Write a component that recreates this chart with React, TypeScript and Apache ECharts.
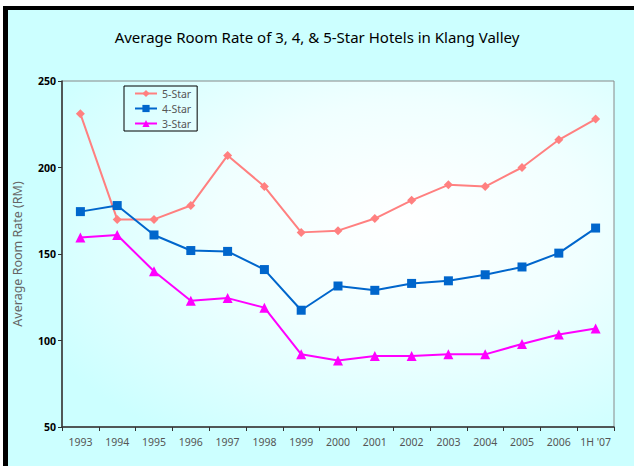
import React, { useEffect, useRef } from "react";
import * as echarts from "echarts";

const categories = ["1993", "1994", "1995", "1996", "1997", "1998", "1999", "2000", "2001", "2002", "2003", "2004", "2005", "2006", "1H '07"];
const fiveStar = [231, 170, 170, 178, 207, 189, 162.5, 163.5, 170.5, 181, 190, 189, 200, 216, 228];
const fourStar = [174.5, 178, 161, 152, 151.5, 141, 117.5, 131.5, 129, 133, 134.5, 138, 142.5, 150.5, 165];
const threeStar = [159.5, 161, 140, 123, 124.5, 119, 92, 88.5, 91, 91, 92, 92, 98, 103.5, 107];
const yTicks = { min: 50, max: 250, interval: 50 };

const FONT = "'Noto Sans', sans-serif";

export default function App() {
  const ref = useRef<HTMLDivElement>(null);
  useEffect(() => {
    if (!ref.current) return;
    const chart = echarts.init(ref.current, undefined, { renderer: "svg" });
    const gl = 62, gt = 81, gr = 20, gb = 39;
    chart.setOption({
      animation: false,
      backgroundColor: "#ffffff",
      graphic: [
        { type: "rect", z: -10, shape: { x: 8, y: 10, width: 626, height: 456 }, style: { fill: "#CCFFFF" } },
        { type: "rect", z: -9, shape: { x: 3, y: 6, width: 5, height: 460 }, style: { fill: "#000000" } },
        { type: "rect", z: -9, shape: { x: 3, y: 6, width: 631, height: 4 }, style: { fill: "#000000" } },
        {
          type: "rect", z: -8,
          shape: { x: gl, y: gt, width: 634 - gl - gr, height: 466 - gt - gb },
          style: {
            fill: new echarts.graphic.RadialGradient(0.62, 0.4, 0.75, [
              { offset: 0, color: "#FFFFFF" },
              { offset: 0.45, color: "#F0FFFF" },
              { offset: 1, color: "#CCFFFF" },
            ]),
          },
        },
      ],
      title: {
        text: "Average Room Rate of 3, 4, & 5-Star Hotels in Klang Valley",
        left: "center",
        top: 24,
        textStyle: { fontFamily: FONT, fontSize: 15, fontWeight: "normal", color: "#000" },
      },
      legend: {
        orient: "vertical",
        left: 124,
        top: 86,
        itemWidth: 22,
        itemHeight: 9,
        itemGap: 4,
        padding: [2, 6, 2, 10],
        borderColor: "#000",
        borderWidth: 1,
        backgroundColor: "transparent",
        textStyle: { fontFamily: FONT, fontSize: 10.5, color: "#555" },
        data: ["5-Star", "4-Star", "3-Star"],
      },
      grid: {
        left: gl, top: gt, right: gr, bottom: gb,
        show: true, borderColor: "#888", borderWidth: 1, backgroundColor: "transparent",
      },
      xAxis: {
        type: "category",
        data: categories,
        boundaryGap: true,
        axisLine: { lineStyle: { color: "#333", width: 1.5 } },
        axisTick: { show: true, length: 4, lineStyle: { color: "#333" } },
        axisLabel: { fontFamily: FONT, fontSize: 10.5, color: "#555", margin: 9, interval: 0 },
        splitLine: { show: false },
      },
      yAxis: {
        type: "value",
        min: yTicks.min,
        max: yTicks.max,
        interval: yTicks.interval,
        name: "Average Room Rate (RM)",
        nameLocation: "middle",
        nameGap: 38,
        nameTextStyle: { fontFamily: FONT, fontSize: 12.5, color: "#666" },
        axisLine: { show: true, lineStyle: { color: "#333", width: 1.5 } },
        axisTick: { show: true, length: 4, lineStyle: { color: "#333" } },
        axisLabel: { fontFamily: FONT, fontSize: 10.5, fontWeight: "bold", color: "#000", margin: 6 },
        splitLine: { show: false },
      },
      series: [
        {
          name: "5-Star", type: "line", data: fiveStar,
          symbol: "diamond", symbolSize: 9,
          lineStyle: { color: "#FF8080", width: 2 }, itemStyle: { color: "#FF8080" },
        },
        {
          name: "4-Star", type: "line", data: fourStar,
          symbol: "rect", symbolSize: 9,
          lineStyle: { color: "#0066CC", width: 2 }, itemStyle: { color: "#0066CC" },
        },
        {
          name: "3-Star", type: "line", data: threeStar,
          symbol: "triangle", symbolSize: 10,
          lineStyle: { color: "#FF00FF", width: 2 }, itemStyle: { color: "#FF00FF" },
        },
      ],
    });
    return () => chart.dispose();
  }, []);
  return <div ref={ref} style={{ position: "fixed", left: 0, top: 0, width: 634, height: 466 }} />;
}
